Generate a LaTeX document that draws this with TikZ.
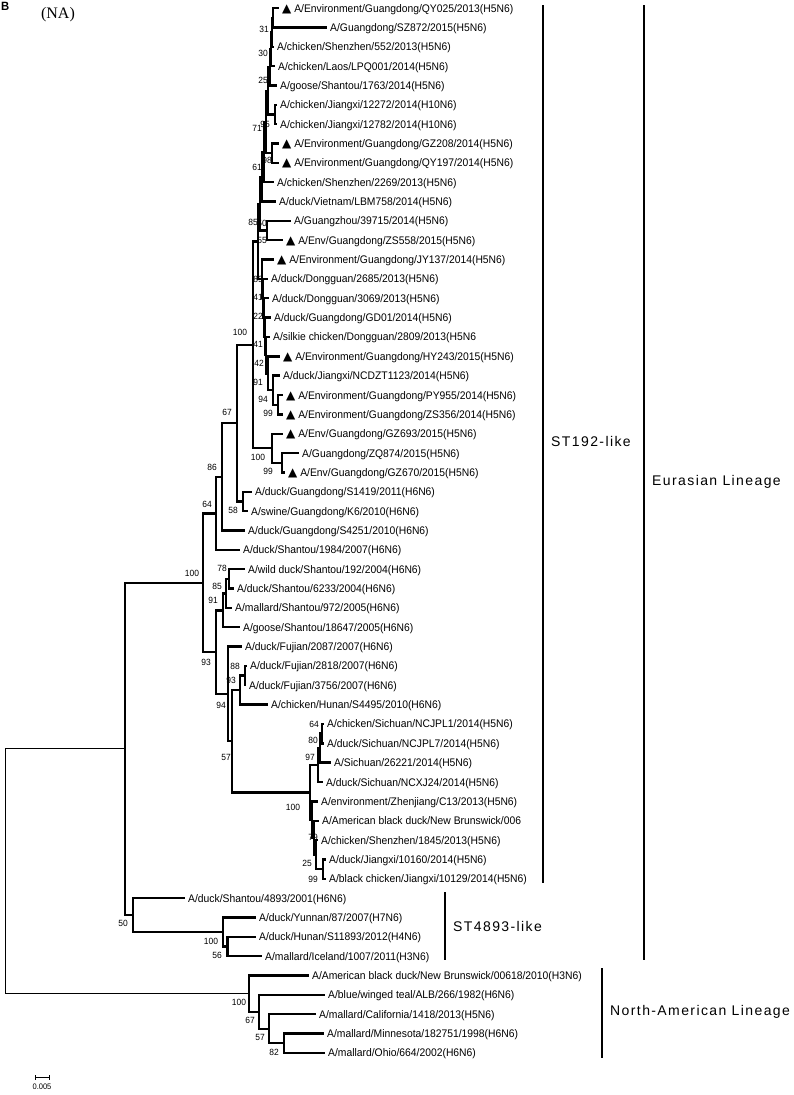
\documentclass[tikz,border=0pt]{standalone}
\usepackage{fontspec}
\setmainfont[FakeStretch=0.94]{Liberation Sans}
\newfontfamily\serifname{Liberation Serif}
\newfontfamily\cladefont[LetterSpace=10]{Liberation Sans}
\newfontfamily\symfont{DejaVu Sans}
\newcommand{\tri}{{\symfont\fontsize{12}{12}\selectfont ▲}}
\usepackage{tikz}

\begin{document}
\begin{tikzpicture}[x=1pt,y=-1pt,
	leaf/.style={anchor=west,inner xsep=3pt,inner ysep=0pt,text height=8pt,text depth=0pt,
		font=\fontsize{11}{13}\selectfont},
	boot/.style={inner sep=0pt,font=\fontsize{9}{10}\selectfont},
	clade/.style={anchor=west,inner sep=0pt,font=\cladefont\fontsize{14}{16}\selectfont},
	bar/.style={line width=2.3pt},
	tree/.style={every edge/.style={draw,line width=2.4pt,to path={|- (\tikztotarget)}}},
	roottree/.style={every edge/.style={draw,line width=1pt,to path={|- (\tikztotarget)}}}]
	
	\useasboundingbox (0,0) rectangle (794,1095);
	
	\node[anchor=north west,inner sep=0pt,font=\bfseries\fontsize{12}{12}\selectfont] (panel) at (1,2) {B};
	\node[inner sep=0pt,font=\serifname\fontsize{16}{16}\selectfont] (segment) at (58,15) {(NA)};
	
	% leaves
	\node[leaf] (qy025) at (279,8.0) {\tri\ A/Environment/Guangdong/QY025/2013(H5N6)};
	\node[leaf] (sz872) at (327,27.35) {A/Guangdong/SZ872/2015(H5N6)};
	\node[leaf] (sz552) at (274,46.7) {A/chicken/Shenzhen/552/2013(H5N6)};
	\node[leaf] (laos) at (275,66.05) {A/chicken/Laos/LPQ001/2014(H5N6)};
	\node[leaf] (g1763) at (277,85.4) {A/goose/Shantou/1763/2014(H5N6)};
	\node[leaf] (jx12272) at (277,104.75) {A/chicken/Jiangxi/12272/2014(H10N6)};
	\node[leaf] (jx12782) at (277,124.1) {A/chicken/Jiangxi/12782/2014(H10N6)};
	\node[leaf] (gz208) at (279,143.45) {\tri\ A/Environment/Guangdong/GZ208/2014(H5N6)};
	\node[leaf] (qy197) at (279,162.8) {\tri\ A/Environment/Guangdong/QY197/2014(H5N6)};
	\node[leaf] (sz2269) at (274,182.15) {A/chicken/Shenzhen/2269/2013(H5N6)};
	\node[leaf] (lbm758) at (276,201.5) {A/duck/Vietnam/LBM758/2014(H5N6)};
	\node[leaf] (gz39715) at (291,220.85) {A/Guangzhou/39715/2014(H5N6)};
	\node[leaf] (zs558) at (283,240.2) {\tri\ A/Env/Guangdong/ZS558/2015(H5N6)};
	\node[leaf] (jy137) at (274,259.55) {\tri\ A/Environment/Guangdong/JY137/2014(H5N6)};
	\node[leaf] (dg2685) at (268,278.9) {A/duck/Dongguan/2685/2013(H5N6)};
	\node[leaf] (dg3069) at (269,298.25) {A/duck/Dongguan/3069/2013(H5N6)};
	\node[leaf] (gd01) at (271,317.6) {A/duck/Guangdong/GD01/2014(H5N6)};
	\node[leaf] (silkie) at (270,336.95) {A/silkie chicken/Dongguan/2809/2013(H5N6};
	\node[leaf] (hy243) at (280,356.3) {\tri\ A/Environment/Guangdong/HY243/2015(H5N6)};
	\node[leaf] (ncdzt) at (280,375.65) {A/duck/Jiangxi/NCDZT1123/2014(H5N6)};
	\node[leaf] (py955) at (283,395.0) {\tri\ A/Environment/Guangdong/PY955/2014(H5N6)};
	\node[leaf] (zs356) at (283,414.35) {\tri\ A/Environment/Guangdong/ZS356/2014(H5N6)};
	\node[leaf] (gz693) at (283,433.7) {\tri\ A/Env/Guangdong/GZ693/2015(H5N6)};
	\node[leaf] (zq874) at (299,453.05) {A/Guangdong/ZQ874/2015(H5N6)};
	\node[leaf] (gz670) at (285,472.4) {\tri\ A/Env/Guangdong/GZ670/2015(H5N6)};
	\node[leaf] (s1419) at (252,491.75) {A/duck/Guangdong/S1419/2011(H6N6)};
	\node[leaf] (k6) at (248,511.1) {A/swine/Guangdong/K6/2010(H6N6)};
	\node[leaf] (s4251) at (245,530.45) {A/duck/Guangdong/S4251/2010(H6N6)};
	\node[leaf] (st1984) at (240,549.8) {A/duck/Shantou/1984/2007(H6N6)};
	\node[leaf] (wd192) at (245,569.15) {A/wild duck/Shantou/192/2004(H6N6)};
	\node[leaf] (st6233) at (234,588.5) {A/duck/Shantou/6233/2004(H6N6)};
	\node[leaf] (ml972) at (232,607.85) {A/mallard/Shantou/972/2005(H6N6)};
	\node[leaf] (g18647) at (240,627.2) {A/goose/Shantou/18647/2005(H6N6)};
	\node[leaf] (fj2087) at (242,646.55) {A/duck/Fujian/2087/2007(H6N6)};
	\node[leaf] (fj2818) at (247,665.9) {A/duck/Fujian/2818/2007(H6N6)};
	\node[leaf] (fj3756) at (246,685.25) {A/duck/Fujian/3756/2007(H6N6)};
	\node[leaf] (hn4495) at (268,704.6) {A/chicken/Hunan/S4495/2010(H6N6)};
	\node[leaf] (ncjpl1) at (324,723.95) {A/chicken/Sichuan/NCJPL1/2014(H5N6)};
	\node[leaf] (ncjpl7) at (324,743.3) {A/duck/Sichuan/NCJPL7/2014(H5N6)};
	\node[leaf] (sc26221) at (331,762.65) {A/Sichuan/26221/2014(H5N6)};
	\node[leaf] (ncxj24) at (323,782.0) {A/duck/Sichuan/NCXJ24/2014(H5N6)};
	\node[leaf] (zjc13) at (318,801.35) {A/environment/Zhenjiang/C13/2013(H5N6)};
	\node[leaf] (abd006) at (319,820.7) {A/American black duck/New Brunswick/006};
	\node[leaf] (sz1845) at (318,840.05) {A/chicken/Shenzhen/1845/2013(H5N6)};
	\node[leaf] (jx10160) at (326,859.4) {A/duck/Jiangxi/10160/2014(H5N6)};
	\node[leaf] (jx10129) at (326,878.75) {A/black chicken/Jiangxi/10129/2014(H5N6)};
	\node[leaf] (st4893) at (185,898.1) {A/duck/Shantou/4893/2001(H6N6)};
	\node[leaf] (yn87) at (256,917.45) {A/duck/Yunnan/87/2007(H7N6)};
	\node[leaf] (hn11893) at (256,936.8) {A/duck/Hunan/S11893/2012(H4N6)};
	\node[leaf] (ice1007) at (262,956.15) {A/mallard/Iceland/1007/2011(H3N6)};
	\node[leaf] (abd618) at (309,975.5) {A/American black duck/New Brunswick/00618/2010(H3N6)};
	\node[leaf] (alb266) at (325,994.85) {A/blue/winged teal/ALB/266/1982(H6N6)};
	\node[leaf] (ca1418) at (316,1014.2) {A/mallard/California/1418/2013(H5N6)};
	\node[leaf] (mn1998) at (324,1033.55) {A/mallard/Minnesota/182751/1998(H6N6)};
	\node[leaf] (oh664) at (325,1052.9) {A/mallard/Ohio/664/2002(H6N6)};
	
	% internal nodes
	\coordinate (L1) at (273,17.7);
	\coordinate (L2) at (272,32.2);
	\coordinate (L3) at (271,49.1);
	\coordinate (L4) at (270,67.3);
	\coordinate (n95) at (275,114.4);
	\coordinate (L5) at (268,90.9);
	\coordinate (n98) at (272,153.1);
	\coordinate (L6) at (266,122.0);
	\coordinate (L7) at (264,152.1);
	\coordinate (L8) at (262,176.8);
	\coordinate (n55) at (267,230.5);
	\coordinate (L9) at (260,203.7);
	\coordinate (P1) at (278,404.7);
	\coordinate (P2) at (273,390.2);
	\coordinate (P3) at (268,373.3);
	\coordinate (P4) at (266,355.1);
	\coordinate (P5) at (265,336.4);
	\coordinate (P6) at (264,317.3);
	\coordinate (P7) at (263,298.1);
	\coordinate (P8) at (262,278.8);
	\coordinate (U) at (258,241.3);
	\coordinate (n99g) at (282,462.7);
	\coordinate (n100b) at (272,448.2);
	\coordinate (n100) at (253,344.8);
	\coordinate (n58) at (243,501.4);
	\coordinate (n67) at (237,423.1);
	\coordinate (n86) at (222,476.8);
	\coordinate (n64) at (216,513.3);
	\coordinate (n78) at (229,578.8);
	\coordinate (n85) at (226,593.3);
	\coordinate (n91) at (223,610.3);
	\coordinate (n88) at (245,675.6);
	\coordinate (n93f) at (240,690.1);
	\coordinate (nj64) at (322,733.6);
	\coordinate (nj80) at (320,748.1);
	\coordinate (nj97) at (318,765.1);
	\coordinate (nj99) at (323,869.1);
	\coordinate (nj79) at (316,854.6);
	\coordinate (njm) at (314,837.7);
	\coordinate (njl) at (312,819.5);
	\coordinate (nj100) at (310,792.3);
	\coordinate (n57) at (232,741.2);
	\coordinate (n94) at (228,693.9);
	\coordinate (n93) at (216,652.1);
	\coordinate (eur) at (203,582.7);
	\coordinate (n56) at (227.5,946.5);
	\coordinate (n100y) at (223,932.0);
	\coordinate (n50) at (133,915.1);
	\coordinate (nA) at (125,748.9);
	\coordinate (n82) at (284,1043.2);
	\coordinate (n57na) at (269,1028.7);
	\coordinate (n67na) at (259,1011.8);
	\coordinate (nNA) at (249,993.7);
	\coordinate (root) at (5,871.3);
	
	\path[tree]
	(L1) edge (qy025) edge (sz872)
	(L2) edge (L1) edge (sz552)
	(L3) edge (L2) edge (laos)
	(L4) edge (L3) edge (g1763)
	(n95) edge (jx12272) edge (jx12782)
	(L5) edge (L4) edge (n95)
	(n98) edge (gz208) edge (qy197)
	(L6) edge (L5) edge (n98)
	(L7) edge (L6) edge (sz2269)
	(L8) edge (L7) edge (lbm758)
	(n55) edge (gz39715) edge (zs558)
	(L9) edge (L8) edge (n55)
	(P1) edge (py955) edge (zs356)
	(P2) edge (ncdzt) edge (P1)
	(P3) edge (hy243) edge (P2)
	(P4) edge (silkie) edge (P3)
	(P5) edge (gd01) edge (P4)
	(P6) edge (dg3069) edge (P5)
	(P7) edge (dg2685) edge (P6)
	(P8) edge (jy137) edge (P7)
	(U) edge (L9) edge (P8)
	(n99g) edge (zq874) edge (gz670)
	(n100b) edge (gz693) edge (n99g)
	(n100) edge (U) edge (n100b)
	(n58) edge (s1419) edge (k6)
	(n67) edge (n100) edge (n58)
	(n86) edge (n67) edge (s4251)
	(n64) edge (n86) edge (st1984)
	(n78) edge (wd192) edge (st6233)
	(n85) edge (n78) edge (ml972)
	(n91) edge (n85) edge (g18647)
	(n88) edge (fj2818) edge (fj3756)
	(n93f) edge (n88) edge (hn4495)
	(nj64) edge (ncjpl1) edge (ncjpl7)
	(nj80) edge (nj64) edge (sc26221)
	(nj97) edge (nj80) edge (ncxj24)
	(nj99) edge (jx10160) edge (jx10129)
	(nj79) edge (sz1845) edge (nj99)
	(njm) edge (abd006) edge (nj79)
	(njl) edge (zjc13) edge (njm)
	(nj100) edge (nj97) edge (njl)
	(n57) edge (n93f) edge (nj100)
	(n94) edge (fj2087) edge (n57)
	(n93) edge (n91) edge (n94)
	(eur) edge (n64) edge (n93)
	(n56) edge (hn11893) edge (ice1007)
	(n100y) edge (yn87) edge (n56)
	(n50) edge (st4893) edge (n100y)
	(nA) edge (eur) edge (n50)
	(n82) edge (mn1998) edge (oh664)
	(n57na) edge (ca1418) edge (n82)
	(n67na) edge (alb266) edge (n57na)
	(nNA) edge (abd618) edge (n67na);
	
	\path[roottree] (root) edge (nA) edge (nNA);
	
	% bootstrap values
	\node[boot] (bs1) at (264,29) {31};
	\node[boot] (bs2) at (263,53) {30};
	\node[boot] (bs3) at (263,80) {25};
	\node[boot] (bs4) at (257,128) {71};
	\node[boot] (bs5) at (265,124) {95};
	\node[boot] (bs6) at (267,160) {98};
	\node[boot] (bs7) at (257,167) {61};
	\node[boot] (bs8) at (253,222) {85};
	\node[boot] (bs9) at (262,223) {50};
	\node[boot] (bs10) at (262,240) {55};
	\node[boot] (bs11) at (258,279) {89};
	\node[boot] (bs12) at (258,297) {41};
	\node[boot] (bs13) at (258,316) {22};
	\node[boot] (bs14) at (240,332) {100};
	\node[boot] (bs15) at (258,344) {41};
	\node[boot] (bs16) at (259,363) {42};
	\node[boot] (bs17) at (258,382) {91};
	\node[boot] (bs18) at (263,399) {94};
	\node[boot] (bs19) at (268,413) {99};
	\node[boot] (bs20) at (258,457) {100};
	\node[boot] (bs21) at (268,471) {99};
	\node[boot] (bs22) at (227,412) {67};
	\node[boot] (bs23) at (212,467) {86};
	\node[boot] (bs24) at (233,510) {58};
	\node[boot] (bs25) at (207,504) {64};
	\node[boot] (bs26) at (192,573) {100};
	\node[boot] (bs27) at (222,568) {78};
	\node[boot] (bs28) at (217,586) {85};
	\node[boot] (bs29) at (213,600) {91};
	\node[boot] (bs30) at (206,662) {93};
	\node[boot] (bs31) at (235,666) {88};
	\node[boot] (bs32) at (231,680) {93};
	\node[boot] (bs33) at (221,705) {94};
	\node[boot] (bs34) at (226,757) {57};
	\node[boot] (bs35) at (314,724) {64};
	\node[boot] (bs36) at (313,740) {80};
	\node[boot] (bs37) at (310,757) {97};
	\node[boot] (bs38) at (293,807) {100};
	\node[boot] (bs39) at (313,837) {79};
	\node[boot] (bs40) at (307,863) {25};
	\node[boot] (bs41) at (313,879) {99};
	\node[boot] (bs42) at (123,923) {50};
	\node[boot] (bs43) at (211,941) {100};
	\node[boot] (bs44) at (217,955) {56};
	\node[boot] (bs45) at (239,1002) {100};
	\node[boot] (bs46) at (250,1020) {67};
	\node[boot] (bs47) at (260,1037) {57};
	\node[boot] (bs48) at (274,1052) {82};
	
	% clade bars
	\coordinate (st192top) at (543,5);
	\coordinate (st192bot) at (543,883);
	\coordinate (eurtop) at (644,5);
	\coordinate (eurbot) at (644,960);
	\coordinate (st4893top) at (445,892);
	\coordinate (st4893bot) at (445,960);
	\coordinate (natop) at (602,968);
	\coordinate (nabot) at (602,1058);
	\draw[bar] (st192top) -- (st192bot);
	\draw[bar] (eurtop) -- (eurbot);
	\draw[bar] (st4893top) -- (st4893bot);
	\draw[bar] (natop) -- (nabot);
	\node[clade] (st192) at (551,441) {ST192-like};
	\node[clade] (eurasian) at (652,482) {Eurasian Lineage};
	\node[clade] (st4893like) at (453,926) {ST4893-like};
	\node[clade] (namerican) at (610,1012) {North-American Lineage};
	
	% scale bar
	\coordinate (sbl) at (35,1077);
	\coordinate (sbr) at (49,1077);
	\draw[line width=0.8pt] (sbl) -- (sbr);
	\draw[line width=0.8pt] ([yshift=-2.5pt]sbl) -- ([yshift=2.5pt]sbl);
	\draw[line width=0.8pt] ([yshift=-2.5pt]sbr) -- ([yshift=2.5pt]sbr);
	\node[boot,font=\fontsize{8}{9}\selectfont] (sblabel) at (42,1087) {0.005};
\end{tikzpicture}
\end{document}
